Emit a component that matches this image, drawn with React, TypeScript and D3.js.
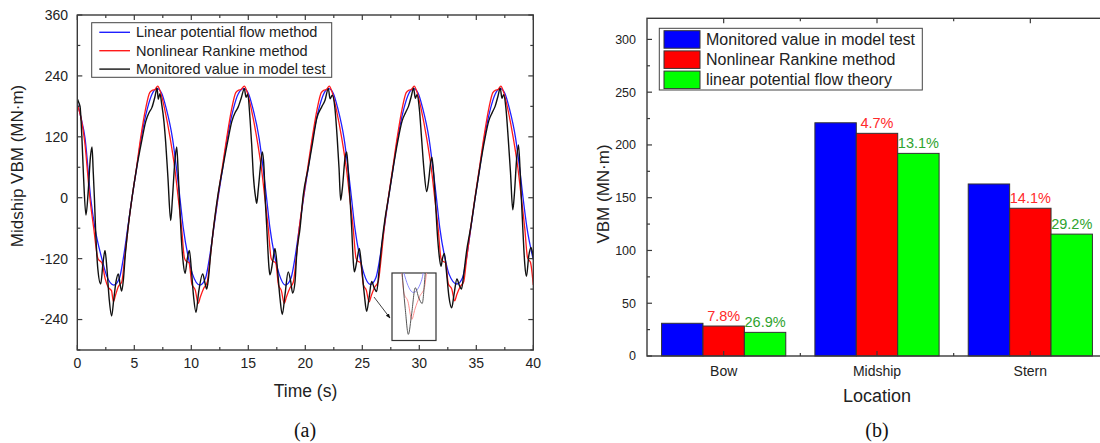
import React from 'react';
import * as d3 from 'd3';

type Pt = [number, number];

// (a) midship VBM time histories, [time s, VBM MN·m]
const linearFlow: Pt[] = [
  [0, 186], [0.3, 160], [0.68, 117], [1.17, 0], [1.55, -60], [2.14, -119], [2.55, -152], [3.2, -172],
  [3.7, -158], [4.04, -119], [4.42, -60], [4.8, 0], [5.2, 58], [5.6, 117], [6.15, 176], [6.55, 204], [7.0, 215],
  [7.4, 206], [7.8, 176], [8.35, 117], [8.7, 58], [9.0, 0], [9.3, -60], [9.75, -119], [10.1, -150], [10.75, -172],
  [11.25, -158], [11.59, -119], [11.97, -60], [12.35, 0], [12.75, 58], [13.15, 117], [13.7, 176], [14.1, 204], [14.6, 215],
  [15.0, 206], [15.4, 176], [15.95, 117], [16.3, 58], [16.6, 0], [16.9, -60], [17.35, -119], [17.7, -150], [18.25, -172],
  [18.75, -158], [19.09, -119], [19.47, -60], [19.85, 0], [20.25, 58], [20.65, 117], [21.2, 176], [21.6, 204], [22.05, 215],
  [22.45, 206], [22.85, 176], [23.4, 117], [23.75, 58], [24.05, 0], [24.35, -60], [24.8, -119], [25.15, -150], [25.7, -171],
  [26.2, -157], [26.54, -119], [26.92, -60], [27.3, 0], [27.7, 58], [28.1, 117], [28.65, 176], [29.05, 204], [29.5, 215],
  [29.9, 206], [30.3, 176], [30.85, 117], [31.2, 58], [31.5, 0], [31.8, -60], [32.25, -119], [32.6, -150], [33.3, -170],
  [33.8, -157], [34.14, -119], [34.52, -60], [34.9, 0], [35.3, 58], [35.7, 117], [36.25, 176], [36.65, 204], [37.1, 215],
  [37.5, 206], [37.9, 176], [38.45, 117], [38.8, 58], [39.1, 0], [39.45, -60], [40, -122],
];

const rankine: Pt[] = [
  [0, 183], [0.3, 160], [0.65, 110], [1.1, 0], [1.44, -60], [1.8, -119], [1.95, -124], [2.15, -128], [2.45, -160],
  [2.7, -176], [3.0, -183], [3.17, -205], [3.35, -192], [3.6, -175], [3.9, -166], [4.15, -120], [4.45, -60], [4.8, 0],
  [5.2, 60], [5.55, 117], [6.0, 176], [6.35, 207], [6.6, 212], [6.8, 213], [7.05, 220], [7.3, 208], [7.65, 176],
  [8.15, 117], [8.55, 58], [8.85, 0], [9.15, -60], [9.4, -119], [9.55, -125], [9.8, -128], [10.05, -170], [10.35, -182],
  [10.6, -208], [10.8, -195], [11.1, -178], [11.4, -166], [11.65, -120], [11.95, -60], [12.32, 0], [12.72, 60], [13.1, 117],
  [13.55, 176], [13.9, 207], [14.15, 212], [14.35, 213], [14.65, 220], [14.9, 208], [15.25, 176], [15.75, 117], [16.15, 58],
  [16.45, 0], [16.75, -60], [17.0, -119], [17.15, -125], [17.4, -128], [17.65, -172], [17.9, -183], [18.15, -208], [18.35, -195],
  [18.65, -178], [18.95, -166], [19.2, -120], [19.47, -60], [19.83, 0], [20.22, 60], [20.6, 117], [21.05, 176], [21.4, 207],
  [21.65, 212], [21.85, 213], [22.1, 220], [22.35, 208], [22.7, 176], [23.2, 117], [23.6, 58], [23.9, 0], [24.2, -60],
  [24.45, -119], [24.6, -125], [24.85, -128], [25.1, -172], [25.35, -182], [25.6, -205], [25.8, -192], [26.1, -176], [26.4, -165],
  [26.65, -120], [26.92, -60], [27.28, 0], [27.68, 60], [28.05, 117], [28.5, 176], [28.85, 207], [29.1, 212], [29.3, 213],
  [29.55, 220], [29.8, 208], [30.15, 176], [30.65, 117], [31.05, 58], [31.35, 0], [31.65, -60], [31.9, -119], [32.05, -125],
  [32.3, -128], [32.55, -170], [32.85, -180], [33.1, -203], [33.3, -190], [33.6, -175], [33.9, -165], [34.15, -120], [34.5, -60],
  [34.88, 0], [35.28, 60], [35.65, 117], [36.1, 176], [36.45, 207], [36.7, 212], [36.9, 213], [37.15, 220], [37.4, 208],
  [37.75, 176], [38.25, 117], [38.65, 58], [38.95, 0], [39.25, -60], [39.5, -119], [39.75, -127], [40, -172],
];

const monitored: Pt[] = [
  [0, 195], [0.12, 188], [0.25, 178], [0.4, 120], [0.55, 40], [0.76, -34], [0.95, 10], [1.15, 80], [1.29, 100],
  [1.4, 50], [1.5, 0], [1.6, -60], [1.8, -140], [2.05, -170], [2.25, -130], [2.43, -104], [2.6, -140], [2.8, -200],
  [3.01, -233], [3.2, -200], [3.4, -165], [3.6, -150], [3.75, -170], [3.89, -184], [4.05, -160], [4.2, -115], [4.45, -60],
  [4.8, 0], [5.2, 58], [5.65, 112], [6.0, 150], [6.3, 168], [6.55, 178], [6.8, 198], [7.0, 216], [7.1, 194],
  [7.25, 205], [7.4, 185], [7.6, 150], [7.75, 110], [7.95, 40], [8.19, -45], [8.35, 0], [8.55, 70], [8.72, 100],
  [8.85, 50], [8.95, 0], [9.1, -70], [9.3, -130], [9.45, -149], [9.65, -120], [9.83, -104], [10.0, -140], [10.2, -195],
  [10.41, -226], [10.65, -185], [11.0, -150], [11.2, -168], [11.35, -180], [11.5, -160], [11.7, -110], [11.95, -60], [12.3, 0],
  [12.75, 58], [13.2, 112], [13.55, 150], [13.85, 168], [14.1, 178], [14.4, 198], [14.65, 215], [14.8, 198], [14.95, 204],
  [15.15, 156], [15.3, 104], [15.44, 45], [15.65, -1], [15.74, -11], [15.88, 18], [16.11, 71], [16.23, 90], [16.38, 58],
  [16.47, 5], [16.61, -54], [16.82, -139], [16.9, -152], [17.14, -126], [17.34, -100], [17.55, -139], [17.78, -198], [17.98, -230],
  [18.22, -191], [18.5, -146], [18.72, -165], [18.89, -188], [19.1, -165], [19.24, -113], [19.54, -60], [19.82, 5], [20.25, 58],
  [20.65, 110], [21.0, 156], [21.44, 179], [21.73, 192], [22.02, 215], [22.17, 195], [22.37, 202], [22.6, 176], [22.8, 117],
  [22.96, 58], [23.1, -5], [23.25, 18], [23.48, 77], [23.63, 90], [23.77, 51], [23.92, -1], [24.07, -60], [24.21, -126],
  [24.3, -146], [24.51, -126], [24.74, -100], [24.95, -139], [25.18, -191], [25.38, -224], [25.59, -198], [25.82, -165], [26.05, -178],
  [26.26, -185], [26.46, -146], [26.7, -93], [27.0, -40], [27.3, 0], [27.7, 58], [28.1, 110], [28.5, 152], [28.8, 168],
  [29.05, 180], [29.3, 200], [29.5, 216], [29.65, 196], [29.8, 203], [30.0, 176], [30.2, 117], [30.4, 58], [30.65, 12],
  [30.8, 30], [31.0, 70], [31.1, 80], [31.25, 50], [31.4, 0], [31.55, -60], [31.75, -115], [31.9, -135], [32.05, -118],
  [32.2, -110], [32.4, -150], [32.6, -195], [32.84, -217], [33.05, -190], [33.3, -160], [33.5, -172], [33.7, -180], [33.9, -150],
  [34.15, -105], [34.5, -60], [34.9, 0], [35.3, 58], [35.7, 110], [36.1, 152], [36.4, 168], [36.65, 180], [36.9, 200],
  [37.1, 216], [37.25, 196], [37.4, 203], [37.6, 176], [37.8, 117], [38.0, 50], [38.2, -24], [38.35, 10], [38.55, 80],
  [38.7, 104], [38.85, 50], [38.95, 0], [39.1, -70], [39.25, -130], [39.4, -155], [39.6, -115], [39.8, -98], [39.9, -105], [40, -118],
];

const timeTicks = [0, 5, 10, 15, 20, 25, 30, 35, 40];
const timeMinor = [2.5, 7.5, 12.5, 17.5, 22.5, 27.5, 32.5, 37.5];
const vbmTicks = [-240, -120, 0, 120, 240, 360];
const vbmMinor = [-300, -180, -60, 60, 180, 300];

// (b) VBM amplitude by location
const locations = ['Bow', 'Midship', 'Stern'];
const measuredVbm = [31, 221, 163];
const rankineVbm = [28.4, 211, 140];
const linearVbm = [22.4, 192, 115.5];
const rankineErr = ['7.8%', '4.7%', '14.1%'];
const linearErr = ['26.9%', '13.1%', '29.2%'];
const barTicks = [0, 50, 100, 150, 200, 250, 300];
const barMinor = [25, 75, 125, 175, 225, 275];

const FONT = '"Liberation Sans", Arial, sans-serif';
const SERIF = '"Liberation Serif", "Times New Roman", serif';
const AX = '#3a3a3a';

const LineChart = () => {
  const L = 77.3, R = 533.3, T = 15, B = 350;
  const x = d3.scaleLinear().domain([0, 40]).range([L, R]);
  const y = d3.scaleLinear().domain([-300, 360]).range([B, T]);
  const line = d3.line<Pt>().x(d => x(d[0])).y(d => y(d[1])).curve(d3.curveMonotoneX);

  // magnified inset of the trough near t = 25.5 s
  const ix = d3.scaleLinear().domain([24.34, 27.14]).range([392, 436]);
  const iy = d3.scaleLinear().domain([-232, -146]).range([340.7, 272.7]);
  const iline = d3.line<Pt>().x(d => ix(d[0])).y(d => iy(d[1])).curve(d3.curveMonotoneX);

  const series = [
    { name: 'Linear potential flow method', data: linearFlow, color: '#1f1fff', faded: '#8c8cff', w: 1.3 },
    { name: 'Nonlinear Rankine method', data: rankine, color: '#ff1a1a', faded: '#ff9090', w: 1.3 },
    { name: 'Monitored value in model test', data: monitored, color: '#111', faded: '#555', w: 1.4 },
  ];

  return (
    <g>
      <defs>
        <clipPath id="plotA"><rect x={L} y={T} width={R - L} height={B - T} /></clipPath>
        <clipPath id="inset"><rect x={392} y={273} width={44} height={67.5} /></clipPath>
        <marker id="arrow" viewBox="0 0 10 10" refX="9" refY="5" markerWidth="6" markerHeight="6" orient="auto">
          <path d="M0,1 L10,5 L0,9 z" fill="#111" />
        </marker>
      </defs>
      <g clipPath="url(#plotA)">
        {series.map(s => (
          <path key={s.name} d={line(s.data) ?? ''} fill="none" stroke={s.color} strokeWidth={s.w} />
        ))}
      </g>
      {/* inset */}
      <rect x={392} y={273} width={44} height={67.5} fill="#fff" stroke="#333" strokeWidth={1.2} />
      <g clipPath="url(#inset)">
        {series.map(s => (
          <path key={s.name} d={iline(s.data) ?? ''} fill="none" stroke={s.faded} strokeWidth={1} />
        ))}
      </g>
      <line x1={374} y1={297} x2={390} y2={318} stroke="#111" strokeWidth={0.8} markerEnd="url(#arrow)" />

      {/* frame and ticks */}
      <rect x={L} y={T} width={R - L} height={B - T} fill="none" stroke={AX} strokeWidth={1.4} />
      {timeTicks.map(t => (
        <g key={'tx' + t}>
          <line x1={x(t)} x2={x(t)} y1={B} y2={B - 5} stroke={AX} strokeWidth={1.2} />
          <line x1={x(t)} x2={x(t)} y1={T} y2={T + 5} stroke={AX} strokeWidth={1.2} />
          <text x={x(t)} y={368} textAnchor="middle" fontSize={14} fill="#222">{t}</text>
        </g>
      ))}
      {timeMinor.map(t => (
        <g key={'tm' + t}>
          <line x1={x(t)} x2={x(t)} y1={B} y2={B - 3} stroke={AX} strokeWidth={1.2} />
          <line x1={x(t)} x2={x(t)} y1={T} y2={T + 3} stroke={AX} strokeWidth={1.2} />
        </g>
      ))}
      {vbmTicks.map(v => (
        <g key={'vy' + v}>
          <line x1={L} x2={L + 5} y1={y(v)} y2={y(v)} stroke={AX} strokeWidth={1.2} />
          <line x1={R} x2={R - 5} y1={y(v)} y2={y(v)} stroke={AX} strokeWidth={1.2} />
          <text x={68} y={y(v)} dy="0.35em" textAnchor="end" fontSize={14} fill="#222">{v}</text>
        </g>
      ))}
      {vbmMinor.map(v => (
        <g key={'vm' + v}>
          <line x1={L} x2={L + 3} y1={y(v)} y2={y(v)} stroke={AX} strokeWidth={1.2} />
          <line x1={R} x2={R - 3} y1={y(v)} y2={y(v)} stroke={AX} strokeWidth={1.2} />
        </g>
      ))}
      <text x={305.5} y={397} textAnchor="middle" fontSize={17.5} fill="#222">Time (s)</text>
      <text transform="translate(17.5,166) rotate(-90)" textAnchor="middle" dy="0.35em" fontSize={17} fill="#222">
        Midship VBM (MN·m)
      </text>
      <text x={305} y={437} textAnchor="middle" fontSize={20} fontFamily={SERIF} fill="#111">(a)</text>

      {/* legend */}
      <rect x={91.7} y={22.7} width={240} height={54.6} fill="#fff" stroke="#444" strokeWidth={1} />
      {series.map((s, i) => (
        <g key={'lg' + s.name} transform={`translate(0,${32.3 + i * 18.4})`}>
          <line x1={99.3} x2={130} y1={0} y2={0} stroke={s.color} strokeWidth={1.4} />
          <text x={136} y={0} dy="0.35em" fontSize={14.5} fill="#222">{s.name}</text>
        </g>
      ))}
    </g>
  );
};

const BarChart = () => {
  const L = 647, R = 1107, T = 18.3, B = 356;
  const x0 = d3.scaleBand<string>().domain(locations).range([L, R]).paddingInner(0.19).paddingOuter(0.095);
  const keys = ['measured', 'rankine', 'linear'];
  const x1 = d3.scaleBand<string>().domain(keys).range([0, x0.bandwidth()]);
  const y = d3.scaleLinear().domain([0, 320]).range([B, T]);
  const colors = ['#0000ff', '#ff0000', '#00ff00'];
  const values = [measuredVbm, rankineVbm, linearVbm];
  const legendNames = ['Monitored value in model test', 'Nonlinear Rankine method', 'linear potential flow theory'];
  const centers = locations.map(c => (x0(c) ?? 0) + x0.bandwidth() / 2);
  const bounds = [0.5 * (centers[0] + centers[1]), 0.5 * (centers[1] + centers[2])];

  return (
    <g>
      {locations.map((c, ci) => (
        <g key={c} transform={`translate(${x0(c)},0)`}>
          {keys.map((k, ki) => (
            <rect key={k} x={x1(k)} y={y(values[ki][ci])} width={x1.bandwidth()} height={B - y(values[ki][ci])}
              fill={colors[ki]} stroke="#333" strokeWidth={1} />
          ))}
          <text x={(x1('rankine') ?? 0) + x1.bandwidth() / 2} y={y(rankineVbm[ci]) - 5} textAnchor="middle"
            fontSize={14.5} fill="#ff2a2a">{rankineErr[ci]}</text>
          <text x={(x1('linear') ?? 0) + x1.bandwidth() / 2} y={y(linearVbm[ci]) - 5} textAnchor="middle"
            fontSize={14.5} fill="#2ea32e">{linearErr[ci]}</text>
        </g>
      ))}

      <rect x={L} y={T} width={R - L} height={B - T} fill="none" stroke={AX} strokeWidth={1.4} />
      {barTicks.map(v => (
        <g key={'by' + v}>
          <line x1={L} x2={L + 5} y1={y(v)} y2={y(v)} stroke={AX} strokeWidth={1.2} />
          <line x1={R} x2={R - 5} y1={y(v)} y2={y(v)} stroke={AX} strokeWidth={1.2} />
          <text x={636} y={y(v)} dy="0.35em" textAnchor="end" fontSize={12.5} fill="#222">{v}</text>
        </g>
      ))}
      {barMinor.map(v => (
        <g key={'bm' + v}>
          <line x1={L} x2={L + 3} y1={y(v)} y2={y(v)} stroke={AX} strokeWidth={1.2} />
          <line x1={R} x2={R - 3} y1={y(v)} y2={y(v)} stroke={AX} strokeWidth={1.2} />
        </g>
      ))}
      {centers.map((cx, i) => (
        <g key={'bc' + i}>
          <line x1={cx} x2={cx} y1={B} y2={B - 5} stroke={AX} strokeWidth={1.2} />
          <line x1={cx} x2={cx} y1={T} y2={T + 5} stroke={AX} strokeWidth={1.2} />
          <text x={cx} y={376} textAnchor="middle" fontSize={14} fill="#222">{locations[i]}</text>
        </g>
      ))}
      {bounds.map((bx, i) => (
        <g key={'bb' + i}>
          <line x1={bx} x2={bx} y1={B} y2={B - 3} stroke={AX} strokeWidth={1.2} />
          <line x1={bx} x2={bx} y1={T} y2={T + 3} stroke={AX} strokeWidth={1.2} />
        </g>
      ))}
      <text x={877} y={402} textAnchor="middle" fontSize={18} fill="#222">Location</text>
      <text transform="translate(603,194) rotate(-90)" textAnchor="middle" dy="0.35em" fontSize={17} fill="#222">
        VBM (MN·m)
      </text>
      <text x={877} y={437} textAnchor="middle" fontSize={20} fontFamily={SERIF} fill="#111">(b)</text>

      {/* legend */}
      <rect x={659.3} y={28.3} width={263} height={61.7} fill="#fff" stroke="#444" strokeWidth={1} />
      {legendNames.map((n, i) => (
        <g key={n} transform={`translate(0,${30.7 + i * 20.2})`}>
          <rect x={664} y={0} width={36} height={17.5} fill={colors[i]} stroke="#333" strokeWidth={1} />
          <text x={706} y={8.8} dy="0.35em" fontSize={16} fill="#222">{n}</text>
        </g>
      ))}
    </g>
  );
};

export default function App() {
  return (
    <svg width={1100} height={443} fontFamily={FONT}
      style={{ position: 'absolute', left: 0, top: 0, background: '#fff', display: 'block' }}>
      <rect width={1100} height={443} fill="#fff" />
      <LineChart />
      <BarChart />
    </svg>
  );
}
